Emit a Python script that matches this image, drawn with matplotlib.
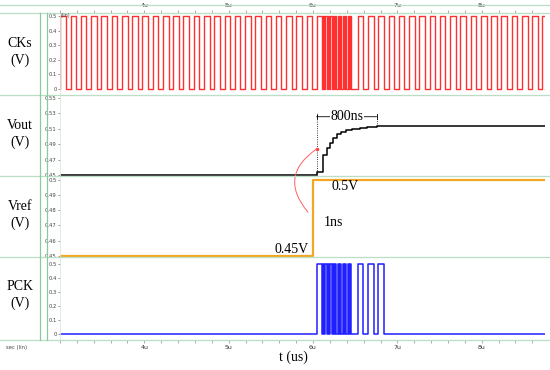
#!/usr/bin/env python3
"""Transient waveforms CKs / Vout / Vref / PCK, redrawn from a simulator screenshot."""

import matplotlib
matplotlib.use("Agg")
import matplotlib.pyplot as plt
from matplotlib.lines import Line2D
from matplotlib.patches import ConnectionPatch
from matplotlib.ticker import MultipleLocator

# ---- data (times in us, values in V) ----
T_START, T_END = 3.0, 8.75

CK_RISES = [3.005, 3.127, 3.248, 3.370, 3.491, 3.613, 3.735, 3.856, 3.978, 4.099,
            4.221, 4.343, 4.464, 4.586, 4.707, 4.829, 4.951, 5.072, 5.194, 5.315,
            5.437, 5.559, 5.680, 5.802, 5.923, 6.045, 6.531, 6.653, 6.775, 6.896,
            7.018, 7.139, 7.261, 7.383, 7.504, 7.626, 7.747, 7.869, 7.991, 8.112,
            8.234, 8.355, 8.477, 8.599, 8.720]
CK_HIGH_US = 0.066
BURST_RISES = [6.115, 6.145, 6.174, 6.204, 6.233, 6.263, 6.292, 6.322, 6.351,
               6.381, 6.410, 6.440]
BURST_HIGH_US = 0.015
PCK_SLOW_RISES = [6.045, 6.531, 6.653, 6.775]
CLK_HIGH = 0.5

VOUT_T = [3.0, 6.043, 6.122, 6.162, 6.201, 6.241, 6.288, 6.328, 6.387, 6.458,
          6.556, 6.635, 6.753, 8.75]
VOUT_V = [0.45, 0.4543, 0.476, 0.4847, 0.4911, 0.4976, 0.5028, 0.5063, 0.5084,
          0.5097, 0.5115, 0.5128, 0.5136, 0.5136]

VREF_T = [3.0, 6.004, 8.75]
VREF_V = [0.45, 0.5, 0.5]

CK_TICKS = [0, 0.1, 0.2, 0.3, 0.4, 0.5]
VOUT_TICKS = [0.45, 0.47, 0.49, 0.51, 0.53, 0.55]
VREF_TICKS = [0.45, 0.46, 0.47, 0.48, 0.49, 0.5]
TIME_TICKS = [4, 5, 6, 7, 8]
TIME_LABELS = ["4u", "5u", "6u", "7u", "8u"]

W, H = 550, 370
GREEN = "#b9dfc4"
GREEN_DARK = "#8cc89e"
SERIF = ["Liberation Serif", "DejaVu Serif"]


def fx(x):
    return x / W


def fy(y):
    return 1 - y / H


def pulses(groups):
    """groups: list of (rises, width). Returns step arrays."""
    edges = sorted((r, w) for rises, w in groups for r in rises)
    t, v = [T_START], [0.0]
    for r, w in edges:
        t += [r, r + w]
        v += [CLK_HIGH, 0.0]
    t.append(T_END)
    v.append(0.0)
    return t, v


fig = plt.figure(figsize=(W / 100, H / 100), dpi=100)

# panel boxes in pixels: (top, bottom)
boxes = [(13, 95), (95, 176), (176, 257), (257, 340)]
axes = []
for top, bot in boxes:
    ax = fig.add_axes([fx(60), fy(bot), fx(545) - fx(60), (bot - top) / H])
    axes.append(ax)
ax_ck, ax_vout, ax_vref, ax_pck = axes

t_ck, v_ck = pulses([(CK_RISES, CK_HIGH_US), (BURST_RISES, BURST_HIGH_US)])
ax_ck.plot(t_ck, v_ck, drawstyle="steps-post", color="#ff3030", lw=1.0)
ax_ck.set_ylim(-0.041, 0.5205)
ax_ck.set_yticks(CK_TICKS)
ax_ck.set_yticklabels(["0", "0.1", "0.2", "0.3", "0.4", "0.5"])

ax_vout.plot(VOUT_T, VOUT_V, drawstyle="steps-post", color="black", lw=1.1)
ax_vout.set_ylim(0.4487, 0.5539)
ax_vout.set_yticks(VOUT_TICKS)
ax_vout.set_yticklabels(["0.45", "0.47", "0.49", "0.51", "0.53", "0.55"])

ax_vref.plot(VREF_T, VREF_V, drawstyle="steps-post", color="#f5a623", lw=1.6)
ax_vref.set_ylim(0.4493, 0.5023)
ax_vref.set_yticks(VREF_TICKS)
ax_vref.set_yticklabels(["0.45", "0.46", "0.47", "0.48", "0.49", "0.5"])

t_pck, v_pck = pulses([(PCK_SLOW_RISES, CK_HIGH_US), (BURST_RISES, BURST_HIGH_US)])
ax_pck.plot(t_pck, v_pck, drawstyle="steps-post", color="#1f1fff", lw=1.1)
ax_pck.set_ylim(-0.043, 0.55)
ax_pck.set_yticks(CK_TICKS)
ax_pck.set_yticklabels(["0", "0.1", "0.2", "0.3", "0.4", "0.5"])

for ax in axes:
    ax.set_xlim(T_START, T_END)
    for side in ("top", "bottom", "right"):
        ax.spines[side].set_visible(False)
    ax.spines["left"].set_color("#d6ecdc")
    ax.spines["left"].set_linewidth(0.6)
    ax.tick_params(axis="y", length=1.5, width=0.4, labelsize=3.8, pad=1,
                   colors="#444444")
    ax.xaxis.set_major_locator(MultipleLocator(1))
    ax.xaxis.set_minor_locator(MultipleLocator(0.2))
    ax.tick_params(axis="x", which="both", bottom=False, top=False,
                   labelbottom=False, labeltop=False)

for ax, where in ((ax_ck, "top"), (ax_pck, "bottom")):
    ax.set_xticks(TIME_TICKS)
    ax.set_xticklabels(TIME_LABELS)
    ax.tick_params(axis="x", which="both", length=2.5, width=0.5, color="#888888",
                   labelsize=4.5, pad=1, labelcolor="#333333",
                   **{where: True, "label" + where: True})

# Vout annotations: 800 ns settling
ax_vout.vlines(6.043, 0.45, 0.531, colors="black", linestyles=":", lw=0.6)
ax_vout.vlines(6.753, 0.5136, 0.531, colors="black", linestyles=":", lw=0.6)
ax_vout.annotate("", xy=(6.043, 0.5257), xytext=(6.753, 0.5257),
                 arrowprops=dict(arrowstyle="|-|,widthA=0.2,widthB=0.2", lw=0.6,
                                 color="black", shrinkA=0, shrinkB=0))
ax_vout.text(6.40, 0.5257, "800ns", ha="center", va="center", fontsize=10,
             family=SERIF, bbox=dict(facecolor="white", edgecolor="none", pad=0.5))
ax_vout.plot([6.043], [0.4838], "o", color="#ff4040", ms=1.5)

con = ConnectionPatch(xyA=(6.043, 0.4838), coordsA=ax_vout.transData,
                      xyB=(5.94, 0.4786), coordsB=ax_vref.transData,
                      connectionstyle="arc3,rad=0.55", color="#ff6060", lw=0.7)
fig.add_artist(con)

ax_vref.text(6.38, 0.4953, "0.5V", ha="center", va="center", fontsize=10, family=SERIF)
ax_vref.text(6.24, 0.4722, "1ns", ha="center", va="center", fontsize=10, family=SERIF)
ax_vref.text(5.95, 0.4539, "0.45V", ha="right", va="center", fontsize=10, family=SERIF)

# window frame lines
for y in (5, 13, 95, 176, 257, 340):
    fig.add_artist(Line2D([0, 1], [fy(y), fy(y)], transform=fig.transFigure,
                          color=GREEN, lw=0.9))
for x in (39.5, 47):
    fig.add_artist(Line2D([fx(x), fx(x)], [fy(13), fy(340)], transform=fig.transFigure,
                          color=GREEN_DARK, lw=0.9))

# signal names on the left
for name, yc in (("CKs", 52), ("Vout", 134), ("Vref", 215), ("PCK", 295)):
    fig.text(fx(20), fy(yc), f"{name}\n(V)", ha="center", va="center",
             fontsize=10, family=SERIF, linespacing=1.3)

fig.text(fx(61), fy(16), "(lin)", ha="left", va="center", fontsize=3.5, color="#444444")
fig.text(fx(6), fy(347), "sec (lin)", ha="left", va="center", fontsize=3.8, color="#444444")
fig.text(fx(293), fy(357), "t (us)", ha="center", va="center", fontsize=10, family=SERIF)

fig.savefig("out.png", dpi=100)
